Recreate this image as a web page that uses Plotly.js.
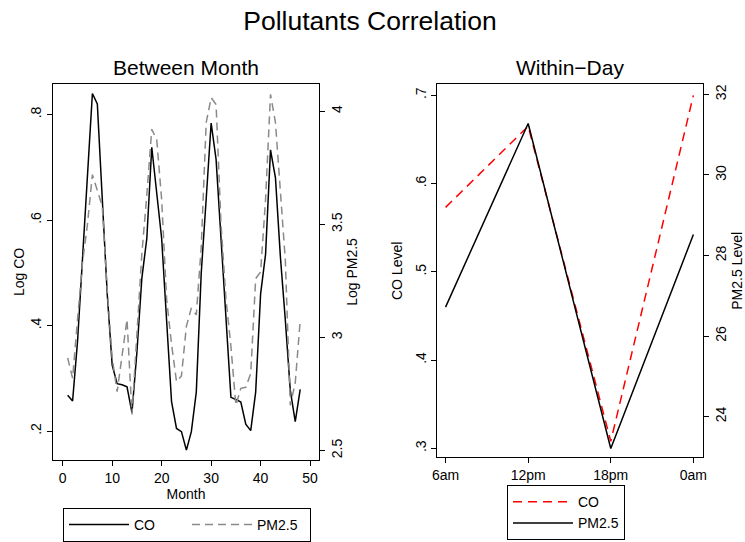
<!DOCTYPE html>
<html>
<head>
<meta charset="utf-8">
<script src="https://cdn.plot.ly/plotly-3.0.1.min.js"></script>
<style>html,body{margin:0;padding:0;background:#fff;}#chart{width:745px;height:542px;}</style>
</head>
<body>
<div id="chart"></div>
<script>
// ---- Data ----
const months = [1,2,3,4,5,6,7,8,9,10,11,12,13,14,15,16,17,18,19,20,21,22,23,24,25,26,27,28,29,30,31,32,33,34,35,36,37,38,39,40,41,42,43,44,45,46,47,48];
const logCO = [0.268,0.257,0.37,0.52,0.685,0.840,0.820,0.63,0.46,0.325,0.29,0.288,0.284,0.235,0.35,0.49,0.565,0.738,0.65,0.565,0.41,0.256,0.205,0.199,0.164,0.199,0.274,0.50,0.64,0.784,0.715,0.57,0.41,0.264,0.26,0.255,0.213,0.201,0.274,0.46,0.535,0.733,0.68,0.53,0.41,0.277,0.218,0.279];
const logPM = [2.91,2.82,3.08,3.33,3.50,3.72,3.65,3.58,3.21,2.91,2.76,2.92,3.08,2.66,3.00,3.37,3.63,3.92,3.875,3.61,3.17,2.97,2.805,2.83,3.05,3.13,3.10,3.40,3.95,4.06,4.03,3.50,3.17,2.96,2.70,2.775,2.78,2.84,3.26,3.29,3.61,4.075,3.95,3.66,3.34,2.70,2.80,3.075];

const hours = ['6am','12pm','18pm','0am'];
const coLevel = [0.573,0.665,0.308,0.700];
const pmLevel = [26.72,31.28,23.21,28.52];

const leftYTicks = [0.2,0.4,0.6,0.8];
const leftYText = ['.2','.4','.6','.8'];
const leftY2Ticks = [2.5,3,3.5,4];
const leftY2Text = ['2.5','3','3.5','4'];
const monthTicks = [0,10,20,30,40,50];
const rightYTicks = [0.3,0.4,0.5,0.6,0.7];
const rightYText = ['.3','.4','.5','.6','.7'];
const rightY2Ticks = [24,26,28,30,32];

// ---- Layout helpers ----
const W = 745, H = 542;
const px = v => v / W;
const py = v => 1 - v / H;
const FONT = 'Liberation Sans, Arial, Helvetica, sans-serif';

const traces = [
  {x: months, y: logCO, type: 'scatter', mode: 'lines', name: 'CO', xaxis: 'x', yaxis: 'y',
   line: {color: '#000000', width: 1.5}, legend: 'legend'},
  {x: months, y: logPM, type: 'scatter', mode: 'lines', name: 'PM2.5', xaxis: 'x', yaxis: 'y2',
   line: {color: '#8a8a8a', width: 1.5, dash: '8px,5px'}, legend: 'legend'},
  {x: hours, y: coLevel, type: 'scatter', mode: 'lines', name: 'CO', xaxis: 'x2', yaxis: 'y3',
   line: {color: '#ff0000', width: 1.5, dash: '9px,6px'}, legend: 'legend2'},
  {x: hours, y: pmLevel, type: 'scatter', mode: 'lines', name: 'PM2.5', xaxis: 'x2', yaxis: 'y4',
   line: {color: '#000000', width: 1.5}, legend: 'legend2'}
];

const axisCommon = {
  showgrid: false, zeroline: false, showline: true, linecolor: '#000', linewidth: 1,
  ticks: 'outside', ticklen: 5, tickwidth: 1, tickcolor: '#000',
  tickfont: {family: FONT, size: 14, color: '#000'}, automargin: false
};

const layout = {
  width: W, height: H,
  margin: {l: 0, r: 0, t: 0, b: 0},
  paper_bgcolor: '#fff', plot_bgcolor: '#fff',
  font: {family: FONT, color: '#000'},
  title: {text: 'Pollutants Correlation', font: {family: FONT, size: 26.5, color: '#000'},
          x: px(370), xanchor: 'center', y: py(21), yanchor: 'middle', xref: 'paper', yref: 'paper'},
  xaxis: Object.assign({}, axisCommon, {
    domain: [px(53), px(319)], range: [-1.96, 51.8], anchor: 'y', mirror: true,
    tickvals: monthTicks,
    title: {text: 'Month', font: {family: FONT, size: 14}, standoff: 2}
  }),
  yaxis: Object.assign({}, axisCommon, {
    domain: [py(462), py(84)], range: [0.1447, 0.8585], anchor: 'x',
    tickvals: leftYTicks, ticktext: leftYText, tickangle: -90,
    title: {text: 'Log CO', font: {family: FONT, size: 14}, standoff: 0}
  }),
  yaxis2: Object.assign({}, axisCommon, {
    domain: [py(462), py(84)], range: [2.457, 4.122], anchor: 'x', overlaying: 'y', side: 'right',
    tickvals: leftY2Ticks, ticktext: leftY2Text, tickangle: -90,
    title: {text: 'Log PM2.5', font: {family: FONT, size: 14}, standoff: 3}
  }),
  xaxis2: Object.assign({}, axisCommon, {
    domain: [px(437.3), px(703.3)], range: [-0.1, 3.12], anchor: 'y3', mirror: true,
    type: 'category', categoryarray: hours
  }),
  yaxis3: Object.assign({}, axisCommon, {
    domain: [py(459), py(84.7)], range: [0.2898, 0.7124], anchor: 'x2',
    tickvals: rightYTicks, ticktext: rightYText, tickangle: -90,
    title: {text: 'CO Level', font: {family: FONT, size: 14}, standoff: 6}
  }),
  yaxis4: Object.assign({}, axisCommon, {
    domain: [py(459), py(84.7)], range: [22.99, 32.25], anchor: 'x2', overlaying: 'y3', side: 'right',
    tickvals: rightY2Ticks, tickangle: -90,
    title: {text: 'PM2.5 Level', font: {family: FONT, size: 14}, standoff: 5}
  }),
  annotations: [
    {text: 'Between Month', x: px(186), y: py(68), xref: 'paper', yref: 'paper', showarrow: false,
     xanchor: 'center', yanchor: 'middle', font: {family: FONT, size: 21, color: '#000'}},
    {text: 'Within\u2212Day', x: px(570), y: py(68), xref: 'paper', yref: 'paper', showarrow: false,
     xanchor: 'center', yanchor: 'middle', font: {family: FONT, size: 21, color: '#000'}}
  ],
  legend: {orientation: 'h', x: px(63), y: py(510), xanchor: 'left', yanchor: 'top',
           bordercolor: '#000', borderwidth: 1, bgcolor: '#fff', itemwidth: 60,
           font: {family: FONT, size: 14, color: '#000'}, entrywidth: 48, traceorder: 'normal'},
  legend2: {orientation: 'v', x: px(507), y: py(487), xanchor: 'left', yanchor: 'top',
           bordercolor: '#000', borderwidth: 1, bgcolor: '#fff', itemwidth: 60,
           font: {family: FONT, size: 14, color: '#000'}, traceorder: 'normal'},
  showlegend: true
};

Plotly.newPlot('chart', traces, layout, {displayModeBar: false, staticPlot: true});
</script>
</body>
</html>
